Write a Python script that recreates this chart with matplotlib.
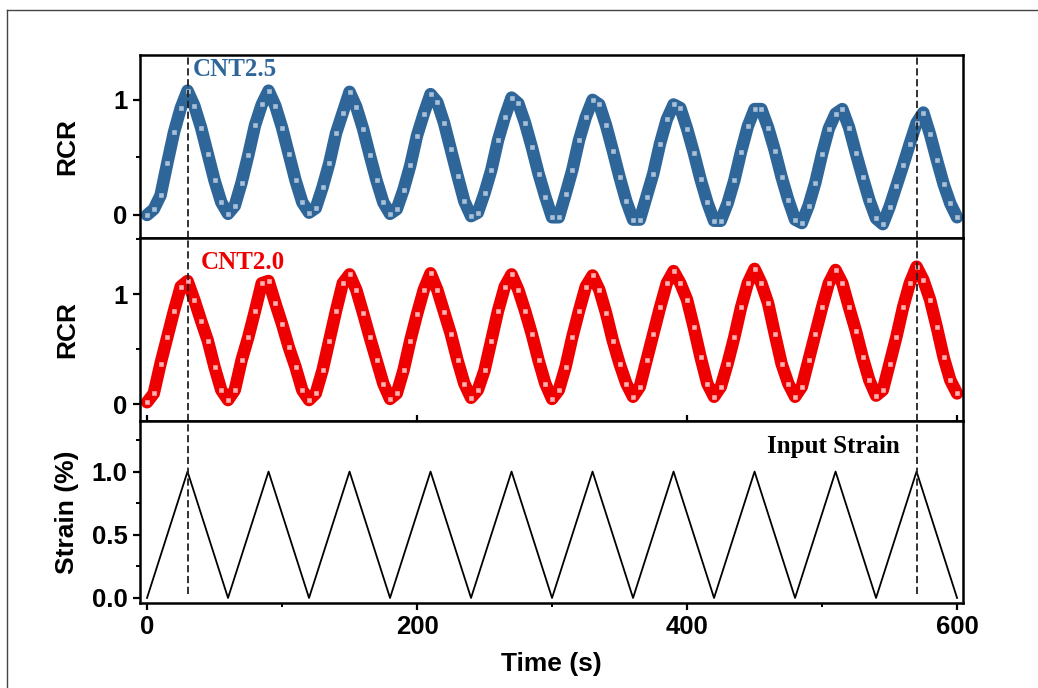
import numpy as np
import matplotlib
matplotlib.use("Agg")
import matplotlib.pyplot as plt
from matplotlib import font_manager as fm
from matplotlib.lines import Line2D
from matplotlib.ticker import MultipleLocator, FormatStrFormatter

# ---------------- data ----------------
time_s = np.arange(0, 601, 5)

rcr_cnt25 = [
    0.00, 0.05, 0.17, 0.45, 0.72, 0.93, 1.08, 0.95, 0.76, 0.53, 0.30, 0.11, 0.01,
    0.08, 0.28, 0.52, 0.78, 0.96, 1.08, 0.95, 0.76, 0.53, 0.30, 0.11, 0.02,
    0.06, 0.24, 0.45, 0.71, 0.89, 1.07, 0.94, 0.75, 0.52, 0.30, 0.11, 0.01,
    0.05, 0.22, 0.43, 0.69, 0.88, 1.05, 0.98, 0.80, 0.57, 0.34, 0.12, -0.01,
    0.02, 0.19, 0.39, 0.65, 0.85, 1.02, 0.97, 0.80, 0.59, 0.36, 0.16, -0.02,
    -0.02, 0.18, 0.39, 0.65, 0.85, 1.00, 0.96, 0.78, 0.56, 0.33, 0.12, -0.04,
    -0.04, 0.16, 0.36, 0.62, 0.83, 0.96, 0.93, 0.75, 0.54, 0.31, 0.11, -0.05,
    -0.05, 0.10, 0.30, 0.55, 0.77, 0.92, 0.92, 0.76, 0.56, 0.33, 0.13, -0.04,
    -0.07, 0.08, 0.28, 0.53, 0.75, 0.88, 0.92, 0.76, 0.54, 0.33, 0.13, -0.03,
    -0.08, 0.07, 0.25, 0.43, 0.62, 0.80, 0.89, 0.70, 0.48, 0.27, 0.10, -0.02,
]

rcr_cnt20 = [
    0.02, 0.10, 0.37, 0.61, 0.85, 1.07, 1.12, 0.95, 0.76, 0.58, 0.34, 0.13, 0.04,
    0.13, 0.40, 0.61, 0.85, 1.10, 1.12, 0.92, 0.73, 0.52, 0.34, 0.13, 0.04,
    0.10, 0.31, 0.58, 0.85, 1.10, 1.18, 1.04, 0.83, 0.61, 0.40, 0.19, 0.05,
    0.10, 0.31, 0.58, 0.82, 1.04, 1.19, 1.04, 0.84, 0.64, 0.40, 0.19, 0.06,
    0.13, 0.31, 0.58, 0.85, 1.07, 1.18, 1.04, 0.85, 0.64, 0.40, 0.19, 0.05,
    0.13, 0.34, 0.61, 0.85, 1.07, 1.17, 1.04, 0.83, 0.58, 0.37, 0.19, 0.07,
    0.16, 0.40, 0.64, 0.88, 1.10, 1.21, 1.10, 0.95, 0.70, 0.43, 0.19, 0.07,
    0.16, 0.37, 0.61, 0.88, 1.10, 1.23, 1.10, 0.92, 0.64, 0.37, 0.19, 0.07,
    0.16, 0.40, 0.64, 0.88, 1.10, 1.22, 1.10, 0.88, 0.67, 0.43, 0.22, 0.08,
    0.13, 0.37, 0.61, 0.88, 1.10, 1.25, 1.13, 0.95, 0.70, 0.43, 0.22, 0.10,
]

strain_time = [0, 30, 60, 90, 120, 150, 180, 210, 240, 270, 300,
               330, 360, 390, 420, 450, 480, 510, 540, 570, 600]
strain_pct = [0, 1, 0, 1, 0, 1, 0, 1, 0, 1, 0,
              1, 0, 1, 0, 1, 0, 1, 0, 1, 0]

marker_times = [30, 570]
x_ticks = [0, 200, 400, 600]
panel_labels = ["CNT2.5", "CNT2.0", "Input Strain"]

# ---------------- fonts ----------------
def find_font(fname_part, fallback_family):
    for f in fm.findSystemFonts():
        if f.endswith(fname_part):
            return fm.FontProperties(fname=f)
    return fm.FontProperties(family=fallback_family, weight="bold")

SANS_B = find_font("LiberationSans-Bold.ttf", "DejaVu Sans")
SERIF_B = find_font("LiberationSerif-Bold.ttf", "DejaVu Serif")


def fp(base, size):
    p = base.copy()
    p.set_size(size)
    return p

# ---------------- style ----------------
BLUE = "#2F6699"
RED = "#EE0000"

fig = plt.figure(figsize=(10.38, 6.88), dpi=100)
W, H = 1038.0, 688.0
left, right = 140 / W, 963 / W
rows = [(55, 238), (238, 421), (421, 603)]
axes = []
for (top, bot) in rows:
    ax = fig.add_axes([left, 1 - bot / H, right - left, (bot - top) / H])
    axes.append(ax)
ax1, ax2, ax3 = axes

# figure frame (top and left edges only)
fig.add_artist(Line2D([7 / W, 1.0], [1 - 10 / H, 1 - 10 / H], transform=fig.transFigure,
                      color="#444444", lw=1.0))
fig.add_artist(Line2D([7 / W, 7 / W], [1 - 10 / H, 0.0], transform=fig.transFigure,
                      color="#444444", lw=1.0))


def draw_rcr(ax, y, color, light):
    ax.plot(time_s, y, color=color, lw=9.0, solid_joinstyle="round",
            solid_capstyle="round", zorder=2)
    ax.plot(time_s, y, ls="none", marker="s", ms=5.0, mec=color, mfc=light,
            mew=1.0, zorder=3)


draw_rcr(ax1, rcr_cnt25, BLUE, "#A9C0D8")
draw_rcr(ax2, rcr_cnt20, RED, "#FFB0B0")
ax3.plot(strain_time, strain_pct, color="black", lw=1.3, zorder=3)

ax1.set_ylim(-0.2, 1.39)
ax2.set_ylim(-0.15, 1.51)
ax3.set_ylim(-0.04, 1.40)

tick_fp = fp(SANS_B, 18.5)
for ax in axes:
    ax.set_xlim(-5.2, 604.4)
    ax.xaxis.set_major_locator(plt.FixedLocator(x_ticks))
    ax.xaxis.set_minor_locator(MultipleLocator(100))
    for sp in ax.spines.values():
        sp.set_linewidth(1.8)
    ax.tick_params(which="major", direction="out", length=5, width=1.6, pad=4)
    ax.tick_params(which="minor", direction="out", length=3, width=1.4)
    ax.tick_params(axis="x", top=False)
    ax.tick_params(axis="y", right=False)

for ax in (ax1, ax2):
    ax.yaxis.set_major_locator(MultipleLocator(1))
    ax.yaxis.set_minor_locator(MultipleLocator(0.5))
    ax.tick_params(axis="x", labelbottom=False)
ax2.tick_params(axis="x", which="major", direction="inout", length=9)

ax3.set_yticks([0, 0.5, 1.0])
ax3.yaxis.set_minor_locator(MultipleLocator(0.25))
ax3.yaxis.set_major_formatter(FormatStrFormatter("%.1f"))

for ax in axes:
    for lab in ax.get_xticklabels() + ax.get_yticklabels():
        lab.set_fontproperties(tick_fp)

# dashed markers
for t in marker_times:
    for ax in (ax1, ax2):
        ax.axvline(t, color="#222222", lw=1.3, dashes=(4, 2), zorder=4)
    ax3.axvline(t, ymin=0.05, ymax=1.0, color="#222222", lw=1.3, dashes=(4, 2), zorder=4)

lab_fp = fp(SANS_B, 19)
ax1.set_ylabel("RCR", fontproperties=lab_fp)
ax2.set_ylabel("RCR", fontproperties=lab_fp)
ax3.set_ylabel("Strain (%)", fontproperties=lab_fp)
for ax in axes:
    ax.yaxis.set_label_coords(-0.074, 0.5)
ax3.set_xlabel("Time (s)", fontproperties=lab_fp, labelpad=9)

txt_fp = fp(SERIF_B, 18)
ax1.text(34, 1.26, panel_labels[0], color=BLUE, fontproperties=txt_fp,
         ha="left", va="center")
ax2.text(39.8, 1.29, panel_labels[1], color=RED, fontproperties=txt_fp,
         ha="left", va="center")
ax3.text(557.8, 1.20, panel_labels[2], color="black", fontproperties=txt_fp,
         ha="right", va="center")

fig.savefig("out.png", dpi=100)
